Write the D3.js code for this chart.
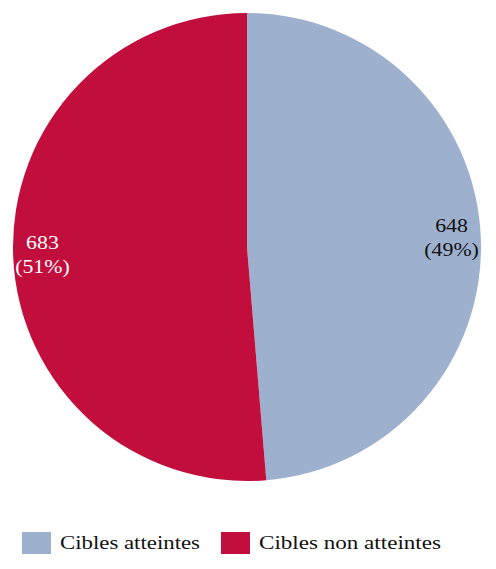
<!DOCTYPE html>
<html><head><meta charset="utf-8">
<script src="https://cdn.jsdelivr.net/npm/d3@7"></script>
<style>body{margin:0;background:#fff;} svg{display:block;}</style>
</head><body>
<script>
const categories = ["Cibles atteintes", "Cibles non atteintes"];
const values = [648, 683];
const percentLabels = ["49%", "51%"];
const colors = ["#9DB0CE", "#C20E3C"];
const labelColors = ["#111", "#fff"];

const W = 496, H = 569;
const cx = 247, cy = 247, R = 234;
const font = "'Liberation Serif', 'DejaVu Serif', serif";

const svg = d3.select("body").append("svg").attr("width", W).attr("height", H);
const pie = d3.pie().sort(null).value(d => d)(values);
const arc = d3.arc().innerRadius(0).outerRadius(R);
const g = svg.append("g").attr("transform", `translate(${cx},${cy})`);
g.selectAll("path").data(pie).join("path")
  .attr("d", arc).attr("fill", (d, i) => colors[i]);

const labelArc = d3.arc().innerRadius(R * 0.875).outerRadius(R * 0.875);
pie.forEach((d, i) => {
  const [x, y] = labelArc.centroid(d);
  const t = g.append("text").attr("text-anchor", "middle")
    .attr("font-family", font).attr("font-size", 19).attr("fill", labelColors[i])
    .attr("transform", `translate(${x},${y}) scale(1.15,1)`);
  t.append("tspan").attr("x", 0).attr("dy", "-0.33em").text(values[i]);
  t.append("tspan").attr("x", 0).attr("dy", "1.26em").text("(" + percentLabels[i] + ")");
});

const legendX = [22, 221];
const legendW = [140, 182];
const leg = svg.append("g");
categories.forEach((c, i) => {
  leg.append("rect").attr("x", legendX[i]).attr("y", 532).attr("width", 29).attr("height", 22).attr("fill", colors[i]);
  leg.append("text").attr("x", legendX[i] + 38).attr("y", 549)
    .attr("font-family", font).attr("font-size", 19).attr("fill", "#111")
    .attr("textLength", legendW[i]).attr("lengthAdjust", "spacingAndGlyphs").text(c);
});
</script>
</body></html>
